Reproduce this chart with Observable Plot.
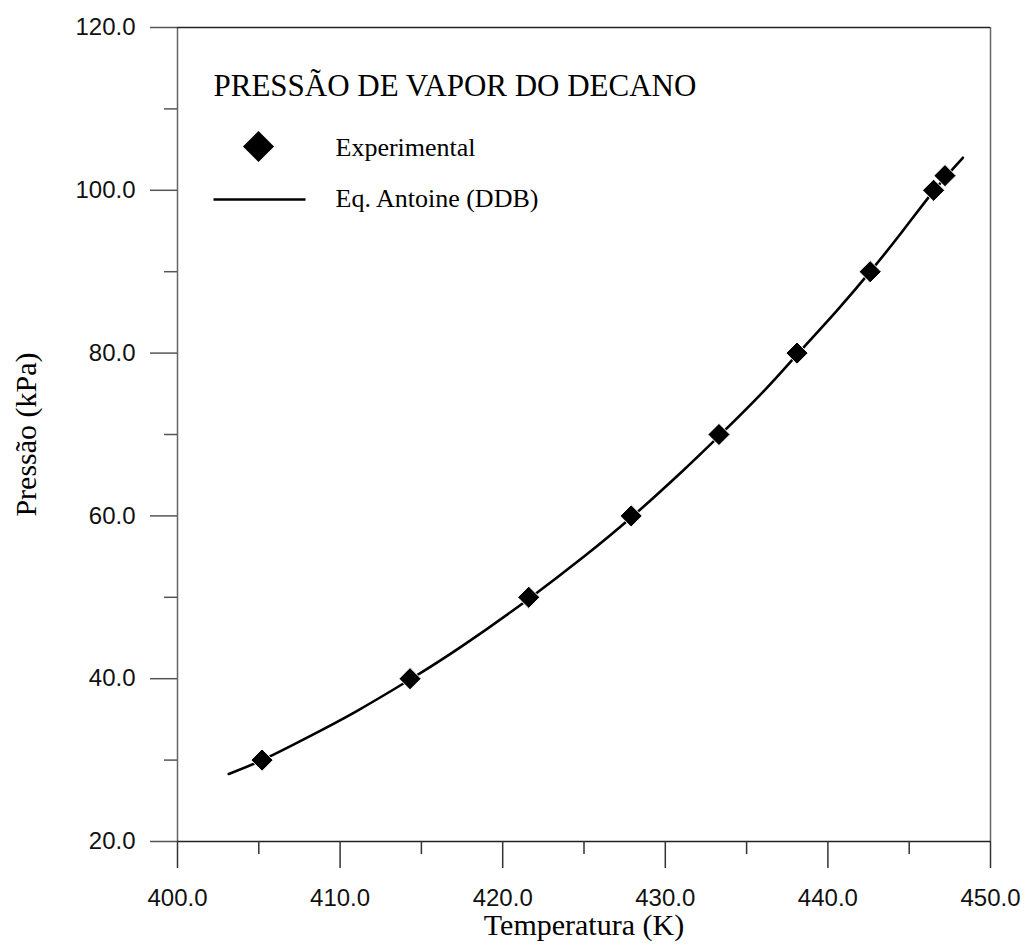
<!DOCTYPE html>
<html>
<head>
<meta charset="utf-8">
<script src="https://cdn.jsdelivr.net/npm/d3@7"></script>
<script src="https://cdn.jsdelivr.net/npm/@observablehq/plot@0.6"></script>
<style>
  html, body { margin: 0; padding: 0; background: #fff; }
  svg { display: block; }
</style>
</head>
<body>
<div id="chart"></div>
<script>
// Experimental points
const expT = [405.2, 414.3, 421.6, 427.9, 433.3, 438.1, 442.6, 446.5, 447.2];
const expP = [30.0, 40.0, 50.0, 60.0, 70.0, 80.0, 90.0, 100.0, 101.8];
// Antoine (DDB) curve
const curveT = [403.15, 405.2, 408.0, 411.0, 414.3, 417.5, 421.6, 425.0, 427.9, 431.0, 433.3, 436.0, 438.1, 440.5, 442.6, 444.6, 446.5, 448.3];
const curveP = [28.3, 30.0, 32.8, 36.0, 39.9, 44.0, 49.8, 55.0, 59.8, 65.4, 69.8, 75.2, 79.8, 85.1, 90.0, 95.0, 99.9, 104.0];
// Ticks
const xMajor = [400, 410, 420, 430, 440, 450];
const xMinor = [405, 415, 425, 435, 445];
const yMajor = [20, 40, 60, 80, 100, 120];
const yMinor = [30, 50, 70, 90, 110];
// Texts
const titleText = "PRESSÃO DE VAPOR DO DECANO";
const legendLabels = ["Experimental", "Eq. Antoine (DDB)"];
const xLabel = "Temperatura (K)";
const yLabel = "Pressão (kPa)";

const expData = expT.map((t, i) => ({T: t, P: expP[i]}));
const curveData = curveT.map((t, i) => ({T: t, P: curveP[i]}));

const serif = "'Liberation Serif', 'Times New Roman', serif";
const sans = "'Liberation Sans', Arial, sans-serif";

const hLine = {draw(ctx, size) { ctx.moveTo(-46, 0); ctx.lineTo(46, 0); }};

const chart = Plot.plot({
  width: 1025,
  height: 945,
  marginLeft: 177,
  marginRight: 35,
  marginTop: 27,
  marginBottom: 104,
  style: {background: "#fff", color: "#000"},
  x: {domain: [400, 450]},
  y: {domain: [20, 120]},
  marks: [
    // frame
    Plot.ruleX([400, 450], {stroke: "#666", strokeWidth: 1.5}),
    Plot.ruleY([20, 120], {stroke: "#222", strokeWidth: 1.5}),
    // axes
    Plot.axisX(xMajor, {tickSize: 27, tickPadding: 20, tickFormat: d => d.toFixed(1), fontSize: 24, fontFamily: sans, stroke: "#333", strokeWidth: 1.5, label: null, fill: "#111"}),
    Plot.axisX(xMinor, {tickSize: 13, text: null, stroke: "#333", strokeWidth: 1.5, label: null}),
    Plot.axisY(yMajor, {tickSize: 27, tickPadding: 15, tickFormat: d => d.toFixed(1), fontSize: 24, fontFamily: sans, stroke: "#555", strokeWidth: 1.5, label: null, fill: "#111"}),
    Plot.axisY(yMinor, {tickSize: 13, text: null, stroke: "#555", strokeWidth: 1.5, label: null}),
    // curve
    Plot.line(curveData, {x: "T", y: "P", curve: "natural", stroke: "#000", strokeWidth: 2.6}),
    // experimental points
    Plot.dot(expData, {x: "T", y: "P", symbol: "diamond2", r: 10, fill: "#000", stroke: "#fff", strokeWidth: 1}),
    // title
    Plot.text([titleText], {frameAnchor: "top-left", dx: 36, dy: 68, lineAnchor: "bottom", textAnchor: "start", fontSize: 31, fontFamily: serif, fill: "#000"}),
    // legend
    Plot.dot([0], {frameAnchor: "top-left", dx: 81, dy: 119, symbol: "diamond2", r: 14, fill: "#000"}),
    Plot.text([legendLabels[0]], {frameAnchor: "top-left", dx: 158, dy: 128, lineAnchor: "bottom", textAnchor: "start", fontSize: 26, fontFamily: serif, fill: "#000"}),
    Plot.dot([0], {frameAnchor: "top-left", dx: 82, dy: 172, symbol: hLine, fill: "none", stroke: "#000", strokeWidth: 2.6}),
    Plot.text([legendLabels[1]], {frameAnchor: "top-left", dx: 158, dy: 179, lineAnchor: "bottom", textAnchor: "start", fontSize: 26, fontFamily: serif, fill: "#000"}),
    // axis labels
    Plot.text([xLabel], {frameAnchor: "bottom", dy: 93, lineAnchor: "bottom", textAnchor: "middle", fontSize: 30, fontFamily: serif, fill: "#000"}),
    Plot.text([yLabel], {frameAnchor: "left", dx: -142, rotate: -90, lineAnchor: "bottom", textAnchor: "middle", fontSize: 30, fontFamily: serif, fill: "#000"})
  ]
});
document.getElementById("chart").appendChild(chart);
</script>
</body>
</html>
